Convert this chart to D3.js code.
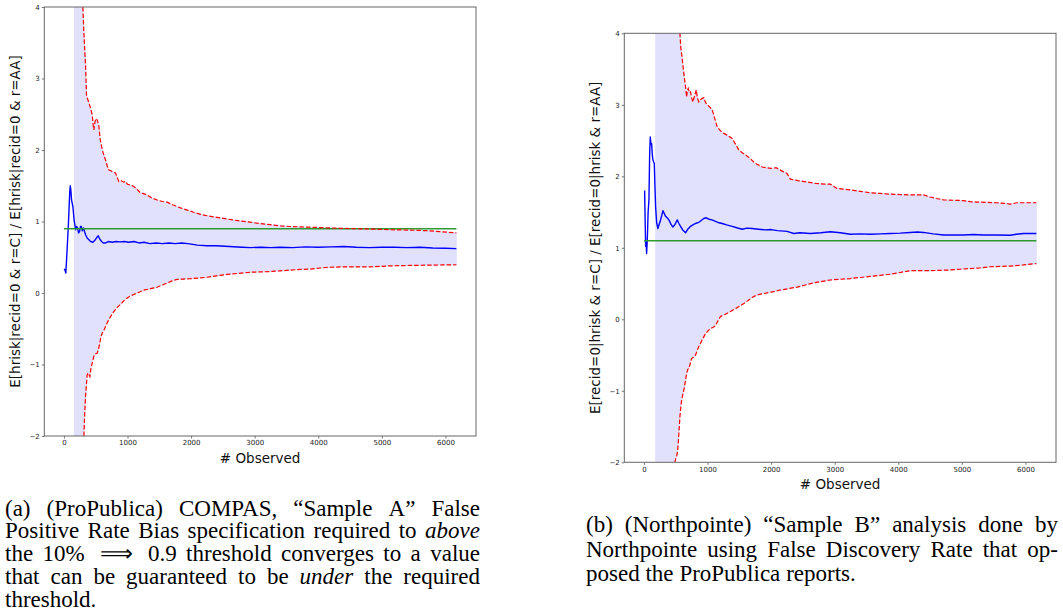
<!DOCTYPE html>
<html>
<head>
<meta charset="utf-8">
<script src="https://cdn.jsdelivr.net/npm/d3@7"></script>
<style>
  body { margin: 0; background: #fff; }
  svg { display: block; }
</style>
</head>
<body>
<div id="vis"></div>
<script>
// ---- data ----
var xTicks = [0, 1000, 2000, 3000, 4000, 5000, 6000];
var yTicks = [-2, -1, 0, 1, 2, 3, 4];
var nObserved = 6172;

// (a) ProPublica, sample A
var thresholdA = 0.9;
var meanA = [[5,0.34],[20,0.31],[30,0.28],[42,0.47],[70,0.95],[92,1.42],[100,1.50],[108,1.45],[120,1.30],[141,1.21],[160,1.02],[184,0.885],[200,0.93],[215,0.91],[230,0.84],[246,0.86],[260,0.93],[273,0.93],[290,0.87],[309,0.91],[325,0.86],[341,0.815],[365,0.77],[393,0.745],[420,0.72],[456,0.71],[490,0.74],[520,0.78],[540,0.80],[560,0.76],[592,0.72],[620,0.70],[655,0.70],[700,0.72],[760,0.71],[820,0.72],[880,0.715],[950,0.72],[1020,0.71],[1100,0.72],[1180,0.70],[1260,0.71],[1350,0.69],[1450,0.70],[1550,0.69],[1650,0.70],[1750,0.69],[1850,0.70],[1950,0.69],[2100,0.67],[2250,0.66],[2400,0.66],[2600,0.65],[2800,0.64],[2930,0.635],[3100,0.64],[3250,0.635],[3400,0.64],[3600,0.635],[3800,0.645],[4000,0.64],[4200,0.645],[4400,0.65],[4600,0.64],[4800,0.635],[5000,0.64],[5200,0.64],[5400,0.635],[5600,0.64],[5800,0.63],[6000,0.625],[6172,0.62]];
var upperA = [[163,12],[250,6],[298,4.0],[314,3.64],[330,3.35],[341,3.17],[350,2.9],[356,2.75],[370,2.72],[393,2.66],[420,2.58],[446,2.49],[460,2.35],[471,2.28],[490,2.40],[505,2.44],[524,2.42],[550,2.33],[570,2.15],[592,2.05],[620,1.95],[655,1.86],[680,1.78],[707,1.72],[740,1.71],[770,1.69],[812,1.68],[840,1.61],[864,1.56],[900,1.57],[940,1.55],[969,1.56],[1000,1.52],[1050,1.51],[1099,1.49],[1150,1.45],[1204,1.40],[1250,1.39],[1309,1.37],[1380,1.33],[1466,1.30],[1550,1.28],[1623,1.27],[1720,1.23],[1832,1.19],[1940,1.16],[2041,1.13],[2150,1.10],[2251,1.08],[2350,1.065],[2460,1.05],[2560,1.035],[2669,1.02],[2800,1.005],[2931,0.99],[3090,0.97],[3245,0.955],[3400,0.94],[3559,0.93],[3720,0.925],[3873,0.92],[4030,0.915],[4187,0.91],[4350,0.905],[4501,0.90],[4660,0.898],[4815,0.895],[4970,0.89],[5129,0.885],[5290,0.882],[5443,0.88],[5600,0.875],[5757,0.87],[5950,0.855],[6172,0.84]];
var lowerA = [[163,-9],[280,-3.2],[314,-2.0],[322,-1.8],[330,-1.63],[340,-1.45],[356,-1.26],[365,-1.15],[377,-1.12],[392,-1.14],[408,-1.17],[425,-1.05],[446,-0.98],[465,-0.9],[482,-0.86],[500,-0.85],[524,-0.84],[545,-0.78],[560,-0.72],[580,-0.62],[603,-0.56],[630,-0.52],[655,-0.47],[690,-0.40],[733,-0.33],[770,-0.28],[812,-0.23],[850,-0.19],[890,-0.16],[940,-0.11],[995,-0.07],[1050,-0.04],[1099,-0.02],[1180,0.01],[1256,0.04],[1360,0.06],[1466,0.08],[1540,0.11],[1623,0.14],[1700,0.17],[1780,0.19],[1880,0.195],[1989,0.20],[2120,0.21],[2251,0.22],[2400,0.24],[2565,0.26],[2750,0.275],[2931,0.29],[3090,0.295],[3245,0.30],[3400,0.31],[3559,0.32],[3720,0.33],[3873,0.335],[4030,0.35],[4187,0.36],[4350,0.365],[4501,0.365],[4660,0.365],[4815,0.365],[4970,0.372],[5129,0.38],[5290,0.383],[5443,0.385],[5600,0.388],[5757,0.39],[5950,0.392],[6172,0.395]];

// (b) Northpointe, sample B
var thresholdB = 1.1;
var meanB = [[11,1.80],[20,1.35],[27,1.02],[35,1.1],[42,0.92],[50,1.05],[58,1.25],[66,1.5],[79,1.67],[90,2.3],[100,2.55],[110,2.45],[121,2.46],[132,2.30],[142,2.23],[152,2.20],[163,2.18],[172,1.9],[184,1.57],[200,1.35],[220,1.27],[240,1.33],[262,1.39],[280,1.45],[299,1.52],[320,1.48],[341,1.44],[365,1.42],[393,1.39],[425,1.33],[456,1.29],[490,1.33],[524,1.39],[550,1.34],[576,1.30],[610,1.25],[655,1.21],[690,1.26],[733,1.30],[770,1.32],[812,1.34],[870,1.36],[942,1.41],[980,1.42],[1021,1.40],[1070,1.39],[1126,1.37],[1180,1.35],[1231,1.34],[1300,1.32],[1388,1.30],[1460,1.28],[1545,1.26],[1620,1.275],[1702,1.27],[1800,1.26],[1911,1.25],[2000,1.255],[2100,1.24],[2252,1.23],[2356,1.20],[2450,1.21],[2617,1.20],[2780,1.21],[2932,1.225],[3090,1.21],[3246,1.19],[3400,1.195],[3560,1.19],[3720,1.195],[3874,1.20],[4030,1.205],[4188,1.215],[4300,1.22],[4398,1.215],[4550,1.195],[4712,1.18],[4870,1.18],[5026,1.18],[5180,1.185],[5340,1.18],[5550,1.18],[5759,1.175],[5860,1.19],[5968,1.20],[6172,1.20]];
var upperB = [[184,14],[450,6],[566,4.0],[580,3.8],[592,3.72],[610,3.58],[628,3.44],[640,3.35],[655,3.25],[671,3.11],[684,3.2],[697,3.23],[715,3.17],[733,3.18],[750,3.1],[770,3.04],[795,3.12],[823,3.21],[840,3.1],[864,3.04],[900,3.08],[942,3.10],[970,3.03],[996,3.0],[1035,2.97],[1074,2.93],[1110,2.82],[1153,2.69],[1200,2.64],[1257,2.60],[1320,2.57],[1388,2.53],[1440,2.45],[1492,2.37],[1545,2.33],[1597,2.30],[1680,2.24],[1754,2.18],[1860,2.13],[1990,2.11],[2080,2.12],[2199,2.06],[2250,2.04],[2304,1.96],[2420,1.94],[2566,1.92],[2700,1.90],[2850,1.89],[2932,1.89],[3037,1.83],[3140,1.82],[3246,1.81],[3400,1.79],[3560,1.77],[3720,1.76],[3874,1.75],[4030,1.745],[4188,1.74],[4398,1.74],[4500,1.71],[4600,1.69],[4712,1.67],[4870,1.665],[5026,1.66],[5130,1.645],[5236,1.64],[5400,1.635],[5550,1.63],[5680,1.62],[5759,1.61],[5864,1.63],[6000,1.63],[6172,1.63]];
var lowerB = [[184,-12],[420,-4],[487,-2.0],[500,-1.95],[514,-1.92],[528,-1.85],[540,-1.73],[553,-1.55],[566,-1.36],[587,-1.17],[605,-1.08],[628,-0.99],[650,-0.88],[671,-0.76],[690,-0.70],[707,-0.69],[728,-0.62],[749,-0.55],[780,-0.53],[812,-0.50],[840,-0.43],[864,-0.38],[915,-0.29],[969,-0.20],[1010,-0.16],[1048,-0.13],[1090,-0.11],[1126,-0.09],[1165,-0.02],[1205,0.04],[1280,0.07],[1362,0.11],[1460,0.16],[1571,0.22],[1650,0.27],[1728,0.32],[1800,0.345],[1885,0.36],[2000,0.38],[2147,0.41],[2280,0.43],[2409,0.45],[2540,0.48],[2670,0.51],[2800,0.53],[2932,0.55],[3090,0.56],[3246,0.57],[3400,0.585],[3560,0.60],[3720,0.615],[3874,0.63],[4030,0.655],[4188,0.68],[4350,0.68],[4502,0.68],[4660,0.685],[4816,0.69],[4970,0.70],[5130,0.71],[5290,0.72],[5444,0.735],[5600,0.74],[5759,0.745],[5970,0.76],[6172,0.78]];

// captions, *word* = italic
var captionA = [
    "(a) (ProPublica) COMPAS, \u201cSample A\u201d False",
    "Positive Rate Bias specification required to *above*",
    "the 10%\u00a0 \u27f9 \u00a00.9 threshold converges to a value",
    "that can be guaranteed to be *under* the required",
    "threshold."
];
var captionB = [
    "(b) (Northpointe) \u201cSample B\u201d analysis done by",
    "Northpointe using False Discovery Rate that op-",
    "posed the ProPublica reports."
];

var width = 1063, height = 615;
var svg = d3.select("#vis").append("svg")
    .attr("width", width)
    .attr("height", height);

var sans = "'DejaVu Sans', sans-serif";
var serif = "'Liberation Serif', 'Times New Roman', serif";

function drawPanel(id, box, yLabel, mean, upper, lower, threshold)
{
    var x = d3.scaleLinear()
        .domain([-0.05 * nObserved, 1.05 * nObserved])
        .range([box.left, box.right]);
    var y = d3.scaleLinear()
        .domain([-2, 4])
        .range([box.bottom, box.top]);

    svg.append("clipPath").attr("id", id)
        .append("rect")
        .attr("x", box.left).attr("y", box.top)
        .attr("width", box.right - box.left)
        .attr("height", box.bottom - box.top);

    var g = svg.append("g").attr("clip-path", "url(#" + id + ")");
    var line = d3.line().x(function(d){ return x(d[0]); }).y(function(d){ return y(d[1]); });

    // confidence band
    var band = upper.concat(lower.slice().reverse());
    g.append("path")
        .attr("d", line(band) + "Z")
        .attr("fill", "rgb(225,225,252)")
        .attr("stroke", "rgb(215,215,248)")
        .attr("stroke-width", 0.6);

    g.append("path")
        .attr("d", line(mean))
        .attr("fill", "none")
        .attr("stroke", "#0000ff")
        .attr("stroke-width", 1.4)
        .attr("stroke-linejoin", "round");

    g.append("path")
        .attr("d", line([[0, threshold], [nObserved, threshold]]))
        .attr("stroke", "#2f9a2f")
        .attr("stroke-width", 1.5);

    [upper, lower].forEach(function(s){
        g.append("path")
            .attr("d", line(s))
            .attr("fill", "none")
            .attr("stroke", "#ff0000")
            .attr("stroke-width", 1.2)
            .attr("stroke-dasharray", "4.5,2");
    });

    // axes
    var xAxis = svg.append("g")
        .attr("transform", "translate(0," + box.bottom + ")")
        .call(d3.axisBottom(x).tickValues(xTicks).tickFormat(d3.format("d")).tickSize(2.5).tickPadding(2));
    var yAxis = svg.append("g")
        .attr("transform", "translate(" + box.left + ",0)")
        .call(d3.axisLeft(y).tickValues(yTicks).tickFormat(d3.format("d")).tickSize(2.5).tickPadding(2));
    [xAxis, yAxis].forEach(function(a){
        a.select(".domain").remove();
        a.selectAll(".tick line").attr("stroke", "#555").attr("stroke-width", 0.8);
        a.selectAll(".tick text").attr("fill", "#222").attr("font-size", 7).attr("font-family", sans);
    });

    svg.append("rect")
        .attr("x", box.left).attr("y", box.top)
        .attr("width", box.right - box.left)
        .attr("height", box.bottom - box.top)
        .attr("fill", "none")
        .attr("stroke", "#666")
        .attr("stroke-width", 1);

    svg.append("text")
        .attr("x", (box.left + box.right) / 2)
        .attr("y", box.bottom + 27)
        .attr("text-anchor", "middle")
        .attr("font-family", sans)
        .attr("font-size", 13.5)
        .attr("fill", "#111")
        .text("# Observed");

    svg.append("text")
        .attr("transform", "translate(" + (box.left - 24) + "," + ((box.top + box.bottom) / 2) + ") rotate(-90)")
        .attr("text-anchor", "middle")
        .attr("font-family", sans)
        .attr("font-size", 13.5)
        .attr("fill", "#111")
        .text(yLabel);
}

// justified caption, last line left aligned
function caption(lines, x0, x1, y0, lh)
{
    var g = svg.append("g")
        .attr("font-family", serif)
        .attr("font-size", 23)
        .attr("fill", "#000");
    var space = 5.8;
    lines.forEach(function(str, i){
        var words = str.split(" ");
        var yy = y0 + i * lh;
        var nodes = words.map(function(w){
            var it = /^\*.*\*$/.test(w);
            return g.append("text")
                .attr("y", yy)
                .attr("font-style", it ? "italic" : "normal")
                .text(it ? w.slice(1, -1) : w);
        });
        var widths = nodes.map(function(n){ return n.node().getComputedTextLength(); });
        var gap = (i == lines.length - 1) ? space : (x1 - x0 - d3.sum(widths)) / (words.length - 1);
        var xx = x0;
        nodes.forEach(function(n, j){
            n.attr("x", xx);
            xx += widths[j] + gap;
        });
    });
}

drawPanel("clipA", {left: 44.3, right: 476, top: 7, bottom: 436},
    "E[hrisk|recid=0 & r=C] / E[hrisk|recid=0 & r=AA]",
    meanA, upperA, lowerA, thresholdA);
drawPanel("clipB", {left: 624.3, right: 1056, top: 33.3, bottom: 462.3},
    "E[recid=0|hrisk & r=C] / E[recid=0|hrisk & r=AA]",
    meanB, upperB, lowerB, thresholdB);

caption(captionA, 5, 480, 515.5, 22.8);
caption(captionB, 586, 1058, 532, 24.5);
</script>
</body>
</html>
